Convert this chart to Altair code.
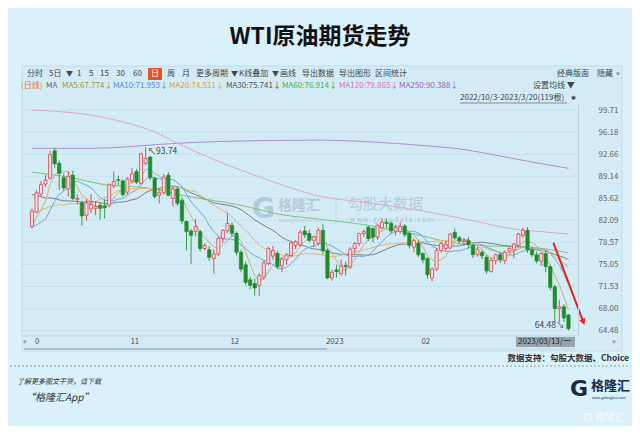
import altair as alt
import pandas as pd

# ---------------- data ----------------
opens = [81.1, 83.4, 86.3, 87.9, 88.8, 93.2, 91.2, 88.9, 87.1, 89.3,
         85.4, 84.9, 82.9, 83.9, 84.0, 84.5, 84.4, 84.5, 87.6, 88.6,
         88.4, 86.6, 88.4, 89.9, 88.0, 91.2, 92.2, 88.8, 86.1, 86.5,
         89.3, 85.6, 87.1, 85.3, 81.9, 80.4, 80.3, 80.3, 77.6, 77.4,
         76.0, 76.7, 79.2, 80.4, 81.3, 80.0, 77.0, 75.0, 72.6, 72.0,
         71.7, 73.0, 75.2, 76.4, 76.8, 74.8, 75.8, 76.5, 78.1, 78.2,
         80.4, 80.0, 78.9, 78.4, 80.5, 77.3, 72.9, 74.2, 73.6, 74.9,
         74.7, 77.6, 78.4, 80.0, 81.0, 80.8, 79.4, 80.9, 81.8, 81.6,
         80.3, 80.3, 81.2, 80.0, 77.8, 78.4, 76.8, 76.0, 72.9, 74.3,
         77.3, 77.6, 77.7, 80.2, 79.3, 78.7, 78.9, 78.1, 76.6, 77.0,
         76.2, 73.9, 75.6, 76.6, 75.7, 77.2, 77.4, 78.1, 79.7, 80.5,
         77.4, 76.6, 75.6, 76.8, 74.7, 71.5, 68.0, 68.3, 67.0]
highs = [84.0, 86.9, 88.4, 89.4, 93.2, 93.6, 91.6, 89.6, 89.9, 90.0,
         86.2, 85.2, 85.5, 86.3, 85.2, 84.9, 85.5, 88.0, 89.9, 89.2,
         88.6, 89.0, 90.4, 90.3, 92.9, 93.74, 92.4, 89.0, 87.3, 89.5,
         89.8, 87.4, 87.4, 85.6, 82.1, 80.7, 82.3, 80.6, 78.4, 78.0,
         77.5, 79.5, 80.7, 83.3, 81.8, 80.3, 77.4, 75.5, 73.1, 72.8,
         73.6, 75.7, 77.9, 78.0, 77.2, 76.2, 76.9, 78.6, 79.0, 80.6,
         81.2, 80.6, 79.6, 80.9, 81.5, 77.6, 74.2, 75.0, 75.8, 75.5,
         77.8, 78.7, 80.1, 80.6, 81.2, 81.0, 81.6, 82.4, 82.3, 81.9,
         81.4, 81.8, 81.5, 80.3, 79.2, 79.0, 77.0, 76.2, 74.6, 77.7,
         78.7, 78.7, 80.1, 80.8, 79.6, 79.3, 79.4, 78.4, 77.9, 77.4,
         76.6, 76.1, 76.8, 77.0, 77.3, 77.9, 78.5, 80.1, 80.9, 81.0,
         77.9, 77.1, 77.0, 77.3, 75.0, 71.8, 69.4, 68.7, 67.1]
lows = [80.8, 83.2, 85.9, 87.4, 88.6, 90.5, 87.0, 86.8, 85.9, 85.3,
        84.7, 81.3, 82.1, 83.3, 82.9, 82.2, 82.4, 84.2, 87.2, 87.7,
        85.9, 86.2, 88.0, 87.9, 87.8, 90.9, 88.5, 85.6, 84.8, 86.2,
        85.9, 84.3, 84.4, 81.5, 77.3, 75.1, 79.5, 77.1, 77.3, 75.6,
        73.6, 76.4, 78.5, 80.1, 79.5, 76.5, 73.8, 71.8, 71.1, 70.1,
        70.0, 72.6, 74.9, 75.8, 74.3, 73.8, 75.0, 76.2, 77.5, 77.9,
        79.3, 78.6, 77.8, 78.0, 76.6, 72.7, 72.5, 73.0, 73.3, 73.3,
        74.3, 76.8, 78.0, 79.4, 78.8, 78.6, 79.0, 80.6, 80.9, 80.0,
        79.7, 80.0, 79.4, 77.6, 77.0, 76.3, 75.2, 72.8, 72.3, 74.0,
        76.9, 77.2, 77.5, 78.9, 78.3, 78.0, 77.6, 76.1, 76.3, 75.9,
        73.6, 73.8, 75.1, 75.3, 75.1, 76.8, 76.0, 77.9, 79.3, 76.9,
        76.3, 75.2, 74.8, 73.8, 70.9, 65.7, 65.8, 65.9, 64.48]
closes = [83.6, 86.5, 87.8, 88.5, 92.6, 91.1, 89.6, 87.3, 89.1, 85.6,
          85.6, 82.8, 84.9, 84.6, 84.3, 84.0, 84.1, 87.8, 88.3, 88.5,
          86.2, 88.7, 89.5, 88.2, 92.7, 92.0, 88.9, 85.9, 86.5, 89.0,
          86.1, 87.1, 84.8, 82.0, 80.3, 79.7, 81.1, 77.6, 78.1, 76.2,
          76.7, 79.2, 80.5, 81.6, 80.0, 77.0, 74.3, 72.2, 71.7, 71.3,
          73.3, 75.3, 77.6, 77.3, 74.7, 75.9, 76.6, 78.5, 78.7, 80.2,
          79.8, 78.9, 79.5, 80.5, 77.2, 72.9, 73.8, 73.9, 74.8, 74.7,
          77.5, 78.4, 80.0, 80.3, 79.2, 79.4, 81.3, 81.8, 81.6, 80.4,
          81.0, 81.1, 79.8, 78.1, 78.9, 76.6, 75.8, 73.4, 74.3, 77.3,
          78.4, 78.3, 79.9, 79.3, 78.8, 78.9, 78.2, 76.6, 77.5, 76.4,
          74.0, 75.7, 76.6, 75.8, 77.0, 77.6, 78.3, 79.9, 80.5, 77.4,
          76.6, 75.6, 76.8, 74.7, 71.4, 68.0, 68.3, 66.5, 64.8]
# closes before the visible window (needed for the short moving averages)
prior_closes = [90.23, 93.74, 94.89, 92.52, 93.06, 97.01, 91.64, 89.55, 86.61, 86.87,
                86.88, 81.94, 83.54, 86.79, 87.78, 87.31, 88.48, 85.10, 85.11, 85.73,
                84.45, 82.94, 83.49, 78.74, 76.71, 78.50, 82.15, 81.23, 79.49]

# long moving averages (bar index, value)
ma60_idx = [0, 8, 16, 25, 33, 46, 55, 63, 74, 83, 92, 100, 108, 114, 118]
ma60_val = [89.8, 89.0, 87.8, 87.3, 86.1, 84.5, 83.0, 82.3, 81.3, 80.1, 78.6, 78.0, 77.9, 77.4, 76.9]
ma120_idx = [0, 7, 13, 20, 27, 32, 40, 49, 56, 63, 74, 85, 96, 106, 112, 118]
ma120_val = [99.7, 99.4, 98.9, 97.8, 96.2, 94.4, 91.8, 89.3, 87.5, 86.0, 84.9, 83.7, 82.2, 80.7, 80.3, 79.9]
ma250_idx = [0, 13, 32, 42, 63, 75, 85, 95, 102, 110, 118]
ma250_val = [93.6, 93.6, 94.4, 94.7, 94.9, 94.6, 94.1, 93.4, 92.5, 91.4, 90.4]

y_ticks = [64.48, 68.00, 71.53, 75.05, 78.57, 82.09, 85.62, 89.14, 92.66, 96.18, 99.71]
month_idx = [0, 21, 43, 64, 85]
month_labels = ["0", "11", "12", "2023", "02"]
arrow_x = [114.7, 121.2]
arrow_y = [78.5, 66.0]

# ---------------- layout constants ----------------
FONT = "Noto Sans CJK SC"
OX, OY = 22, 104          # plot origin in reference pixels
PW, PH = 556, 232
RED = "#e0505a"
UPFILL = "#f4e1e7"
GREEN = "#1f8c2b"
BG = "#d8f1fb"
PANEL = "#d3ebf5"

n = len(closes)
df = pd.DataFrame({"i": list(range(n)), "open": opens, "high": highs,
                   "low": lows, "close": closes})
df["up"] = df["close"] >= df["open"]
allc = pd.Series(prior_closes + closes)
for k in (5, 10, 20, 30):
    df[f"ma{k}"] = allc.rolling(k).mean().iloc[-n:].values

xs = alt.Scale(domain=[-1.08, 119.0], nice=False, zero=False)
ys = alt.Scale(domain=[63.63, 100.67], nice=False, zero=False)
yaxis = alt.Axis(orient="right", values=y_ticks, format=".2f", labelAlign="left",
                 labelPadding=20, ticks=False, grid=False, domain=True,
                 domainColor="#bfd3de", labelColor="#666", labelFontSize=8,
                 labelFont=FONT, title=None, zindex=1, labelOverlap=False)


def X(f):
    return alt.X(f, type="quantitative", scale=xs, axis=None)


def Y(f):
    return alt.Y(f, type="quantitative", scale=ys, axis=yaxis)


one = pd.DataFrame({"a": [0]})


def T(text, x, y, size=8, color="#444", align="left", weight="normal",
      style="normal", baseline="middle", opacity=1.0, font=FONT):
    return alt.Chart(one).mark_text(
        text=text, align=align, baseline=baseline, fontSize=size, color=color,
        fontWeight=weight, fontStyle=style, font=font, opacity=opacity
    ).encode(x=alt.value(x - OX), y=alt.value(y - OY))


def R(x1, y1, x2, y2, fill, stroke=None, sw=1):
    kw = dict(fill=fill)
    if stroke:
        kw.update(stroke=stroke, strokeWidth=sw)
    return alt.Chart(one).mark_rect(**kw).encode(
        x=alt.value(x1 - OX), x2=alt.value(x2 - OX),
        y=alt.value(y1 - OY), y2=alt.value(y2 - OY))


def L(x1, y1, x2, y2, color, sw=1, dash=None):
    kw = dict(color=color, strokeWidth=sw)
    if dash:
        kw["strokeDash"] = dash
    return alt.Chart(one).mark_rule(**kw).encode(
        x=alt.value(x1 - OX), x2=alt.value(x2 - OX),
        y=alt.value(y1 - OY), y2=alt.value(y2 - OY))


layers = []
# panel
layers.append(R(22, 66, 622, 351, PANEL, "#c4dce7"))

# grid lines
grid = alt.Chart(pd.DataFrame({"t": y_ticks})).mark_rule(
    color="#a9c2cf", strokeDash=[1, 3], strokeWidth=1
).encode(y=Y("t"), x=alt.value(0), x2=alt.value(PW))
layers.append(grid)

# watermarks inside plot
WM = "#b3cbdb"
layers += [
    T("G", 252, 210, size=28, color=WM, weight="bold", font="DejaVu Sans"),
    T("格隆汇", 278, 206, size=14, color=WM, weight="bold"),
    T("www.gelonghui.com", 279, 221, size=4.5, color=WM),
    L(336, 197, 336, 224, "#c2d6e2", 1),
    T("勾股大数据", 348, 204, size=15, color="#b6cde0"),
    T("w w w . g o g u d a t a . c o m", 350, 220, size=6.5, color="#aac3d6"),
]

# moving averages
def ma_line(col, color):
    return alt.Chart(df).mark_line(color=color, strokeWidth=1).encode(x=X("i"), y=Y(col))


def ma_pts(idx, val, color):
    return alt.Chart(pd.DataFrame({"i": idx, "v": val})).mark_line(
        color=color, strokeWidth=1, interpolate="monotone").encode(x=X("i"), y=Y("v"))


layers += [
    ma_pts(ma250_idx, ma250_val, "#b48ad2"),
    ma_pts(ma120_idx, ma120_val, "#e6a2d6"),
    ma_pts(ma60_idx, ma60_val, "#78c878"),
    ma_line("ma30", "#808080"),
    ma_line("ma20", "#eab46c"),
    ma_line("ma10", "#6eaae4"),
    ma_line("ma5", "#cdb07a"),
]

# candles
base = alt.Chart(df)
up = base.transform_filter("datum.up")
dn = base.transform_filter("!datum.up")
layers += [
    dn.mark_rule(color="#3a9a40", strokeWidth=1).encode(x=X("i"), y=Y("low"), y2="high"),
    dn.mark_bar(size=3.4, fill=GREEN, stroke=GREEN, strokeWidth=0.6).encode(x=X("i"), y=Y("open"), y2="close"),
    up.mark_rule(color=RED, strokeWidth=1).encode(x=X("i"), y=Y("low"), y2="high"),
    up.mark_bar(size=3.0, fill=UPFILL, stroke=RED, strokeWidth=0.9).encode(x=X("i"), y=Y("open"), y2="close"),
]

# extreme annotations
layers.append(alt.Chart(pd.DataFrame({"i": [25], "p": [93.74], "t": ["↖93.74"]})).mark_text(
    align="left", baseline="top", dx=2, dy=0, fontSize=8.5, color="#444", font=FONT
).encode(x=X("i"), y=Y("p"), text="t"))
layers.append(alt.Chart(pd.DataFrame({"i": [118], "p": [64.48], "t": ["64.48↘"]})).mark_text(
    align="right", baseline="bottom", dx=-4, dy=-1, fontSize=8.5, color="#444", font=FONT
).encode(x=X("i"), y=Y("p"), text="t"))

# red arrow
adf = pd.DataFrame({"i": arrow_x, "p": arrow_y})
layers.append(alt.Chart(adf).mark_line(color="#e5221b", strokeWidth=2).encode(x=X("i"), y=Y("p")))
layers.append(alt.Chart(adf.iloc[[1]]).mark_point(
    shape="triangle", filled=True, size=45, angle=158, color="#e5221b", opacity=1
).encode(x=X("i"), y=Y("p")))

# x axis area
layers += [
    L(22, 336, 578, 336, "#bfd3de", 1),
    L(24, 349, 327, 349, "#9cb1bd", 1.5),
    L(327, 349, 575, 349, "#c3d6e0", 1),
]
layers.append(alt.Chart(pd.DataFrame({"i": month_idx, "t": month_labels})).mark_text(
    align="left", baseline="middle", dx=3, fontSize=8, color="#555", font=FONT
).encode(x=X("i"), y=alt.value(342 - OY), text="t"))
layers += [
    T("«", 23, 342, size=8, color="#555"),
    R(516, 337, 575, 347, "#98a4ad"),
    T("2023/03/13/一", 518, 342, size=8, color="#222"),
    T("»", 612, 342, size=8, color="#555"),
]

# toolbar
tb = [("分时", 27), ("5日", 49), ("▼", 66), ("1", 77), ("5", 89), ("15", 100),
      ("30", 116), ("60", 133), ("周", 167), ("月", 182), ("更多周期", 196),
      ("▼", 231), ("K线叠加", 239), ("▼", 272), ("画线", 280), ("导出数据", 302),
      ("导出图形", 339), ("区间统计", 375), ("经典版面", 557), ("隐藏", 597), ("»", 616)]
for t, x in tb:
    layers.append(T(t, x, 74, size=7 if t == "▼" else 8, color="#444"))
layers.append(R(148, 68, 162, 80, "#e4541f"))
layers.append(T("日", 155, 74, size=8, color="white", align="center"))

# legend row
leg = [("(日线)", 21, "#e77a2e"), ("MA", 46, "#666"), ("MA5:67.774↓", 62, "#aa9536"),
       ("MA10:71.953↓", 113, "#4b8fd8"), ("MA20:74.511↓", 169, "#e6a23c"),
       ("MA30:75.741↓", 226, "#555555"), ("MA60:76.914↓", 282, "#3db54a"),
       ("MA120:79.865↓", 339, "#e070c8"), ("MA250:90.388↓", 399, "#9d5cc0")]
for t, x, c in leg:
    layers.append(T(t, x, 86, size=8, color=c))
layers += [
    T("设置均线 ▼", 533, 86, size=8, color="#444"),
    T("2022/10/3-2023/3/20(119根)", 460, 98, size=8, color="#444"),
    L(460, 103, 567, 103, "#666", 0.7),
    T("✱", 571, 98, size=6, color="#444", font="DejaVu Sans"),
]

# title and footer
layers += [
    T("WTI原油期货走势", 320, 37, size=23, color="#111", align="center", weight="bold"),
    T("数据支持：勾股大数据、Choice", 629, 358, size=8.5, color="#333", align="right", weight="bold"),
    L(10, 366, 631, 366, "#8a9aa3", 1, [2, 2]),
    T("了解更多图文干货，请下载", 17, 382, size=7, color="#333", style="italic"),
    T("“格隆汇App”", 25, 398, size=10, color="#333", style="italic"),
    T("G", 570, 389, size=22, color="#1b2947", weight="bold", font="DejaVu Sans"),
    T("格隆汇", 591, 386, size=13, color="#1b2947", weight="bold"),
    T("www.gelonghui.com", 592, 398, size=3.5, color="#1b2947"),
    T("G", 583, 418, size=12, color="#f2f6f8", weight="bold", font="DejaVu Sans"),
    T("格隆汇", 595, 418, size=10, color="#f2f6f8", weight="bold"),
]

chart = alt.layer(*layers).properties(
    width=PW, height=PH,
    padding={"left": OX - 8, "top": OY - 8, "right": 624 - (OX - 8) - PW,
             "bottom": 418 - (OY - 8) - PH},
    autosize=alt.AutoSizeParams(type="none"),
    background=BG,
).configure_view(stroke=None)

chart.save("out.html", embed_options={"renderer": "svg", "actions": False})
